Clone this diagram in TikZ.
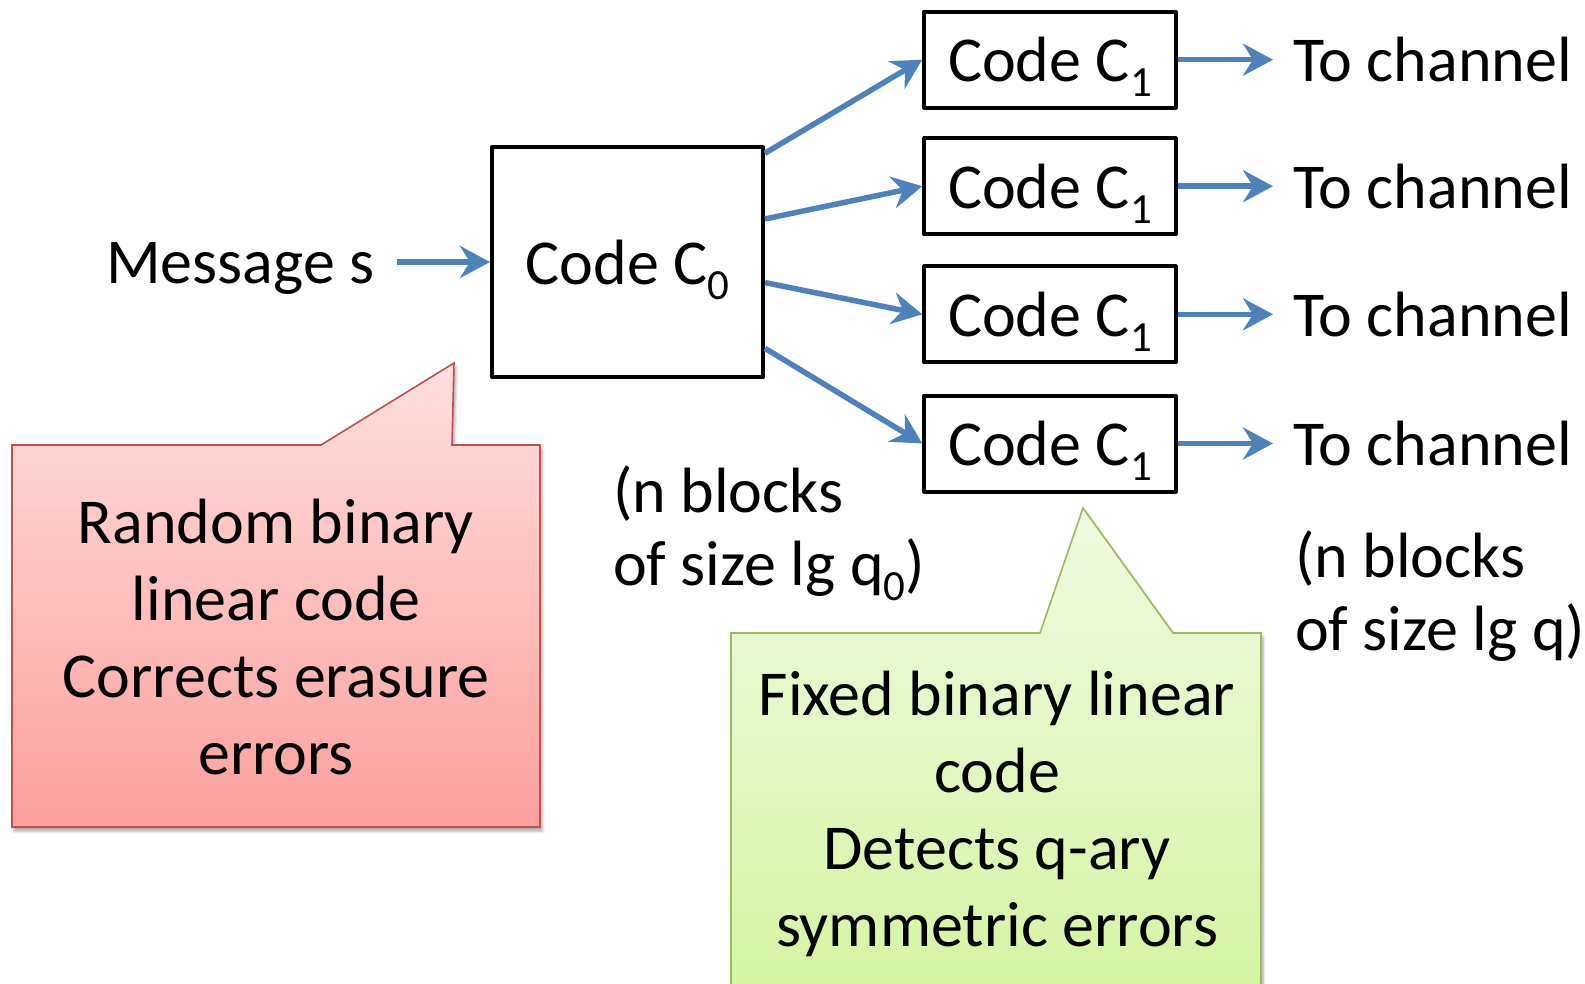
\documentclass[tikz,border=0pt]{standalone}
\usepackage{fontspec}
\setmainfont{Carlito}
\usetikzlibrary{arrows.meta,shadows.blur,calc}

\definecolor{flow}{HTML}{4F81BD}
\definecolor{redtop}{HTML}{FFDFDF}
\definecolor{redbottom}{HTML}{FBA09D}
\definecolor{redline}{HTML}{C0504D}
\definecolor{greentop}{HTML}{F1FAE2}
\definecolor{greenbottom}{HTML}{D4F4A1}
\definecolor{greenline}{HTML}{9BBB59}

% body text and lowered index digits
\newcommand{\bigtext}{\fontsize{64}{77}\selectfont}
\newcommand{\lowsub}[1]{\raisebox{-15pt}{\fontsize{43}{43}\selectfont #1}}

\begin{document}
\begin{tikzpicture}[x=1pt,y=-1pt,
  lbl/.style={font=\bigtext, inner sep=0pt},
  codebox/.style={draw, line width=4pt, line join=round, font=\bigtext,
    inner sep=0pt, text height=44pt, text depth=0pt},
  flowarrow/.style={draw=flow, line width=5.5pt,
    -{Stealth[length=30pt,width=32pt,inset=10pt]}},
  callout/.style={line width=1.6pt, line join=miter,
    blur shadow={shadow xshift=2pt, shadow yshift=-4pt,
      shadow blur radius=3pt, shadow opacity=35}},
  redcallout/.style={callout, draw=redline, top color=redtop, bottom color=redbottom},
  greencallout/.style={callout, draw=greenline, top color=greentop, bottom color=greenbottom},
  notes/.style={font=\fontsize{64}{73}\selectfont, inner sep=0pt, anchor=base west}
]
\useasboundingbox (0,0) rectangle (1585,983);
\clip (0,0) rectangle (1585,983);

% speech bubbles
\path[redcallout] (12,445) -- (321,445) -- (454,363) -- (452,445) -- (540,445)
  -- (540,827) -- (12,827) -- cycle;
\path[greencallout] (731,633) -- (1040,633) -- (1083,508) -- (1173,633) -- (1261,633)
  -- (1261,1002) -- (731,1002) -- cycle;

\node[lbl, anchor=base] (redtext) at (276,543)
  {\begin{tabular}[t]{@{}c@{}}Random binary\\linear code\\Corrects erasure\\errors\end{tabular}};
\node[lbl, anchor=base] (greentext) at (997,715)
  {\begin{tabular}[t]{@{}c@{}}Fixed binary linear\\code\\Detects q-ary\\symmetric errors\end{tabular}};

% outer code and inner codes
\node[codebox, minimum width=271pt, minimum height=230pt] (c0) at (627.5,262)
  {Code C\lowsub{0}};
\node[codebox, minimum width=251.5pt, minimum height=96pt] (c1a) at (1050,59.7)
  {Code C\lowsub{1}};
\node[codebox, minimum width=251.5pt, minimum height=96pt] (c1b) at (1050,186.2)
  {Code C\lowsub{1}};
\node[codebox, minimum width=251.5pt, minimum height=96pt] (c1c) at (1050,314.3)
  {Code C\lowsub{1}};
\node[codebox, minimum width=251.5pt, minimum height=96pt] (c1d) at (1050,443.5)
  {Code C\lowsub{1}};

% labels
\node[lbl, anchor=base west] (msg) at (106,283) {Message s};
\node[lbl, anchor=base west, inner xsep=20pt] (tca) at (1273,81) {To channel};
\node[lbl, anchor=base west, inner xsep=20pt] (tcb) at (1273,208) {To channel};
\node[lbl, anchor=base west, inner xsep=20pt] (tcc) at (1273,336) {To channel};
\node[lbl, anchor=base west, inner xsep=20pt] (tcd) at (1273,465) {To channel};

\node[notes] (innerblocks) at (613,512)
  {\begin{tabular}[t]{@{}l@{}}(n blocks\\of size lg q\lowsub{0})\end{tabular}};
\node[notes] (outerblocks) at (1295,577)
  {\begin{tabular}[t]{@{}l@{}}(n blocks\\of size lg q)\end{tabular}};

% connectors
\draw[flowarrow, shorten <=22pt] (msg.east |- c0.west) -- (c0.west);

\draw[flowarrow] ($(c0.north east)!0.035!(c0.south east)$) -- (c1a.west);
\draw[flowarrow] ($(c0.north east)!0.316!(c0.south east)$) -- (c1b.west);
\draw[flowarrow] ($(c0.north east)!0.588!(c0.south east)$) -- (c1c.west);
\draw[flowarrow] ($(c0.north east)!0.869!(c0.south east)$) -- (c1d.west);

\draw[flowarrow] (c1a.east) -- (c1a.east -| tca.west);
\draw[flowarrow] (c1b.east) -- (c1b.east -| tcb.west);
\draw[flowarrow] (c1c.east) -- (c1c.east -| tcc.west);
\draw[flowarrow] (c1d.east) -- (c1d.east -| tcd.west);
\end{tikzpicture}
\end{document}
